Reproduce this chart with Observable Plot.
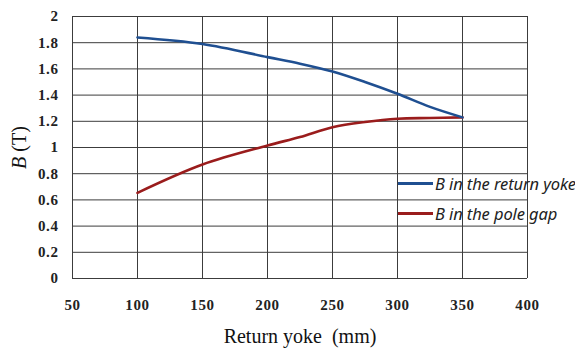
<!DOCTYPE html>
<html><head><meta charset="utf-8">
<script src="https://cdn.jsdelivr.net/npm/d3@7"></script>
<script src="https://cdn.jsdelivr.net/npm/@observablehq/plot@0.6"></script>
<style>
body{margin:0;background:#fff;}
#wrap{position:relative;width:575px;height:351px;overflow:hidden;}
.leg{position:absolute;left:398px;font-family:"Noto Sans",sans-serif;font-style:italic;font-size:16.5px;white-space:nowrap;display:flex;align-items:center;color:#222;letter-spacing:-0.1px;}
.leg span.sw{display:inline-block;width:35px;height:3px;margin-right:2px;}
</style>
</head><body><div id="wrap"></div>
<script>
const xTicks = [50,100,150,200,250,300,350,400];
const yTicks = [0,0.2,0.4,0.6,0.8,1,1.2,1.4,1.6,1.8,2];
const yokeX = [100,150,200,225,250,275,300,325,350];
const yokeB = [1.84,1.79,1.69,1.64,1.58,1.50,1.41,1.31,1.23];
const gapX = [100,150,200,225,250,275,300,325,350];
const gapB = [0.654,0.87,1.015,1.08,1.155,1.195,1.22,1.225,1.23];
const seriesNames = ["B in the return yoke","B in the pole gap"];
const colors = ["#1f4f91","#9a1c1c"];

const yoke = yokeX.map((x,i)=>({x, y:yokeB[i]}));
const gap = gapX.map((x,i)=>({x, y:gapB[i]}));

const chart = Plot.plot({
  width:575, height:351,
  marginLeft:72, marginRight:48, marginTop:16, marginBottom:73,
  style:{fontFamily:"'Liberation Serif', serif", fontSize:"15px", color:"#222", background:"#fff"},
  x:{domain:[50,400], ticks:xTicks, tickSize:0, tickPadding:21, tickFormat:d=>String(d), label:"Return yoke  (mm)", labelAnchor:"center", labelOffset:64},
  y:{domain:[0,2], ticks:yTicks, tickSize:0, tickPadding:14, tickFormat:d=>String(d), label:"B (T)", labelAnchor:"center", labelOffset:61},
  marks:[
    Plot.gridX(xTicks,{stroke:"#3c3c3c", strokeOpacity:1, strokeWidth:1}),
    Plot.gridY(yTicks,{stroke:"#3c3c3c", strokeOpacity:1, strokeWidth:1}),
    Plot.line(gap,{x:"x", y:"y", stroke:colors[1], strokeWidth:2.6, curve:"catmull-rom"}),
    Plot.line(yoke,{x:"x", y:"y", stroke:colors[0], strokeWidth:2.6, curve:"catmull-rom"})
  ]
});
d3.select(chart).selectAll("g[aria-label='x-axis tick label'] text, g[aria-label='y-axis tick label'] text")
  .style("font-weight","bold").style("fill","#222").style("letter-spacing","0.6px");
const xl = d3.select(chart).select("g[aria-label='x-axis label'] text");
xl.style("font-size","20px").style("fill","#111").text("Return yoke  (mm)").style("white-space","pre");
const yl = d3.select(chart).select("g[aria-label='y-axis label'] text");
yl.style("font-size","20px").style("fill","#111").text(null);
yl.append("tspan").style("font-style","italic").text("B");
yl.append("tspan").text(" (T)");
const wrap = document.getElementById("wrap");
wrap.appendChild(chart);
seriesNames.forEach((n,i)=>{
  const d = document.createElement("div");
  d.className="leg";
  d.style.top = (172 + i*30) + "px";
  d.innerHTML = `<span class="sw" style="background:${colors[i]}"></span>${n}`;
  wrap.appendChild(d);
});
</script></body></html>
